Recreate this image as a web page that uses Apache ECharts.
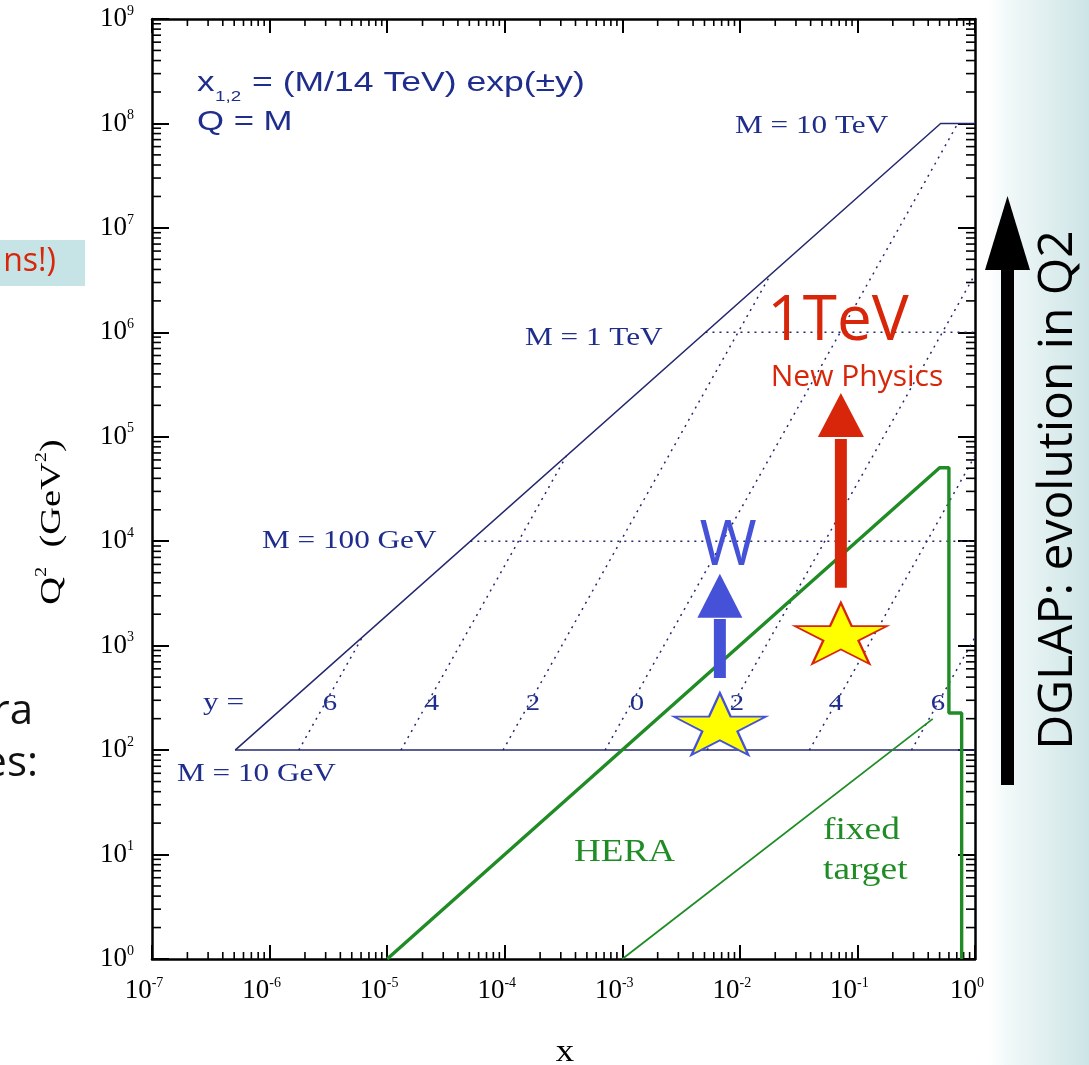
<!DOCTYPE html>
<html><head><meta charset="utf-8">
<script src="https://cdn.jsdelivr.net/npm/echarts@6/dist/echarts.min.js"></script>
<style>html,body{margin:0;padding:0;background:#fff}#c{width:1089px;height:1065px}</style>
</head><body><div id="c"></div>
<script>
// ---------------- data (x, Q^2) ----------------
const xTickExponents = [-7, -6, -5, -4, -3, -2, -1, 0];
const yTickExponents = [0, 1, 2, 3, 4, 5, 6, 7, 8, 9];
const minorMultipliers = [2, 3, 4, 5, 6, 7, 8, 9];

const kinematicLimit = [[5.1e-7, 1e2], [0.51, 1e8], [1, 1e8]];
const massLine10GeV = [[5.1e-7, 1e2], [1, 1e2]];
const massLine100GeV = [[5.1e-5, 1e4], [1, 1e4]];
const massLine1TeV = [[5.1e-3, 1e6], [1, 1e6]];

const rapidityPlus6 = [[1.77e-6, 1e2], [6.14e-6, 1204]];
const rapidityPlus4 = [[1.31e-5, 1e2], [3.35e-4, 6.57e4]];
const rapidityPlus2 = [[9.67e-5, 1e2], [1.83e-2, 3.59e6]];
const rapidityZero = [[7.14e-4, 1e2], [0.714, 1e8]];
const rapidityMinus2 = [[5.28e-3, 1e2], [1, 3.59e6]];
const rapidityMinus4 = [[3.9e-2, 1e2], [1, 6.57e4]];
const rapidityMinus6 = [[0.288, 1e2], [1, 1204]];

const heraRegion = [[1e-5, 1], [0.50, 5.05e4], [0.60, 5.05e4], [0.60, 227], [0.77, 227], [0.77, 1]];
const fixedTargetEdge = [[1e-3, 1], [0.437, 199]];

const starW = [[6.76e-3, 178]];
const starTeV = [[0.0723, 1312]];
const arrowWShaft = [[6.76e-3, 490], [6.76e-3, 1800]];
const arrowWHead = [[6.76e-3, 3000]];
const arrowTeVShaft = [[0.0723, 3580], [0.0723, 9.5e4]];
const arrowTeVHead = [[0.0723, 1.62e5]];

// ---------------- styles ----------------
const NAVY = '#26286f';
const TXT_NAVY = '#1f2d8c';
const GREEN = '#1f8c26';
const RED = '#d8260a';
const BLUE = '#4551d6';
const SERIF = '"Liberation Serif", "DejaVu Serif", serif';
const SANS = '"Liberation Sans", Arial, sans-serif';
const SLIDE = '"Open Sans", "Noto Sans", sans-serif';
const STAR = 'path://M50 0 L61.23 34.55 L97.55 34.55 L68.16 55.9 L79.39 90.45 L50 69.1 L20.61 90.45 L31.84 55.9 L2.45 34.55 L38.77 34.55 Z';

const xMinorTicks = [];
xTickExponents.slice(0, -1).forEach(e => minorMultipliers.forEach(m => xMinorTicks.push(m * Math.pow(10, e))));
const yMinorTicks = [];
yTickExponents.slice(0, -1).forEach(e => minorMultipliers.forEach(m => yMinorTicks.push(m * Math.pow(10, e))));

const expLabel = v => '{b|10}{s|' + Math.round(Math.log10(v)) + '}';
const labelRich = {
  b: { fontFamily: SERIF, fontSize: 27, lineHeight: 30, color: '#000' },
  s: { fontFamily: SERIF, fontSize: 14, lineHeight: 14, verticalAlign: 'top', color: '#000' }
};

function lineSeries(data, color, width, type, z) {
  return { type: 'line', data: data, symbol: 'none', silent: true, animation: false, z: z || 2,
    lineStyle: { color: color, width: width, type: type || 'solid', cap: 'butt' } };
}
const DOT = [2, 5];

const frameAxisX = (pos, labels) => ({
  type: 'log', logBase: 10, min: 1e-7, max: 1, position: pos, splitNumber: 10,
  axisLine: { show: true, onZero: false, lineStyle: { color: '#000', width: 2.5 } },
  axisTick: { show: true, inside: true, length: 14, lineStyle: { color: '#000', width: 2 } },
  splitLine: { show: false }, minorTick: { show: false },
  axisLabel: labels ? { show: true, formatter: expLabel, rich: labelRich, margin: 17, padding: [0, 16, 0, 0], showMinLabel: true, showMaxLabel: true } : { show: false }
});
const frameAxisY = (pos, labels) => ({
  type: 'log', logBase: 10, min: 1, max: 1e9, position: pos, splitNumber: 10,
  axisLine: { show: true, onZero: false, lineStyle: { color: '#000', width: 2.5 } },
  axisTick: { show: true, inside: true, length: 17, lineStyle: { color: '#000', width: 2 } },
  splitLine: { show: false }, minorTick: { show: false },
  axisLabel: labels ? { show: true, formatter: expLabel, rich: labelRich, margin: 18, showMinLabel: true, showMaxLabel: true } : { show: false }
});

const chart = echarts.init(document.getElementById('c'), null, { renderer: 'canvas' });

function T(text, x, y, size, color, extra, styleExtra) {
  const o = Object.assign({
    type: 'text', x: x, y: y, silent: true, z: 50,
    style: { text: text, fontSize: size, fontFamily: SERIF, fill: color, align: 'left', verticalAlign: 'middle' }
  }, extra || {});
  Object.assign(o.style, styleExtra || {});
  return o;
}

const graphics = [
  // right slide panel
  { type: 'rect', z: -5, silent: true, shape: { x: 988, y: 0, width: 101, height: 1065 },
    style: { fill: new echarts.graphic.LinearGradient(0, 0, 1, 0, [
      { offset: 0, color: 'rgba(255,255,255,1)' }, { offset: 0.2, color: '#f1f8f8' }, { offset: 1, color: '#cde4e6' }]) } },
  // left slide fragment box
  { type: 'rect', z: 0, silent: true, shape: { x: 0, y: 240, width: 85, height: 46 }, style: { fill: '#c6e3e6' } },
  T('ns!)', 56, 262, 32, RED, {}, { fontFamily: SLIDE, align: 'right' }),
  T('ra', 33, 712, 42, '#111', {}, { fontFamily: SLIDE, align: 'right' }),
  T('es:', 38, 764, 42, '#111', {}, { fontFamily: SLIDE, align: 'right' }),
  // DGLAP arrow
  { type: 'rect', z: 5, silent: true, shape: { x: 1001, y: 262, width: 13, height: 523 }, style: { fill: '#000' } },
  { type: 'polygon', z: 5, silent: true, shape: { points: [[1007.5, 196], [1030, 270], [985, 270]] }, style: { fill: '#000' } },
  T('DGLAP: evolution in Q2', 1058, 490, 48, '#000', { rotation: Math.PI / 2 }, { fontFamily: SLIDE, align: 'center' }),
  // formula
  T('x', 197, 83, 28, TXT_NAVY, { scaleX: 1.25 }, { fontFamily: SANS }),
  T('1,2', 215, 97, 15, TXT_NAVY, { scaleX: 1.25 }, { fontFamily: SANS }),
  T('= (M/14 TeV) exp(\u00b1y)', 252, 83, 28, TXT_NAVY, { scaleX: 1.27 }, { fontFamily: SANS }),
  T('Q = M', 197, 122, 28, TXT_NAVY, { scaleX: 1.24 }, { fontFamily: SANS }),
  // mass labels
  T('M = 10 TeV', 735, 126, 26, TXT_NAVY, { scaleX: 1.2 }),
  T('M = 1 TeV', 525, 338, 26, TXT_NAVY, { scaleX: 1.2 }),
  T('M = 100 GeV', 262, 541, 26, TXT_NAVY, { scaleX: 1.2 }),
  T('M = 10 GeV', 177, 774, 26, TXT_NAVY, { scaleX: 1.2 }),
  T('y =', 203, 703, 26, TXT_NAVY, { scaleX: 1.2 }),
  T('6', 330, 704, 23, TXT_NAVY, { scaleX: 1.25 }, { align: 'center' }),
  T('4', 432, 704, 23, TXT_NAVY, { scaleX: 1.25 }, { align: 'center' }),
  T('2', 533, 704, 23, TXT_NAVY, { scaleX: 1.25 }, { align: 'center' }),
  T('0', 637, 704, 23, TXT_NAVY, { scaleX: 1.25 }, { align: 'center' }),
  T('2', 737, 704, 23, TXT_NAVY, { scaleX: 1.25 }, { align: 'center' }),
  T('4', 836, 704, 23, TXT_NAVY, { scaleX: 1.25 }, { align: 'center' }),
  T('6', 938, 704, 23, TXT_NAVY, { scaleX: 1.25 }, { align: 'center' }),
  // green labels
  T('HERA', 574, 853, 32, GREEN, { scaleX: 1.16 }),
  T('fixed', 823, 831, 32, GREEN, { scaleX: 1.17 }),
  T('target', 823, 871, 32, GREEN, { scaleX: 1.17 }),
  // slide annotations
  T('W', 728, 547, 62, BLUE, {}, { fontFamily: SLIDE, align: 'center' }),
  T('1TeV', 838, 322, 62, RED, {}, { fontFamily: SLIDE, align: 'center' }),
  T('New Physics', 857, 377, 30, RED, {}, { fontFamily: SLIDE, align: 'center' }),
  // axis titles
  { type: 'text', x: 565, y: 1053, silent: true, scaleX: 1.15, style: { text: 'x', fontSize: 32, fontFamily: SERIF, fill: '#000', align: 'center', verticalAlign: 'middle' } },
  { type: 'text', x: 52, y: 522, rotation: Math.PI / 2, scaleX: 1.28, silent: true,
    style: { text: 'Q{s|2}  (GeV{s|2})', fontSize: 30, fontFamily: SERIF, fill: '#000', align: 'center', verticalAlign: 'middle',
      rich: { s: { fontSize: 16, lineHeight: 16, verticalAlign: 'top', fontFamily: SERIF, fill: '#000' } }, lineHeight: 36 } }
];

const minorTickSeries = (data, isX) => ({
  type: 'custom', silent: true, animation: false, clip: false, z: 3,
  data: data.map(v => isX ? [v, 1] : [1e-7, v]),
  renderItem: (params, api) => {
    const cs = params.coordSys;
    const p = api.coord([api.value(0), api.value(1)]);
    const st = { stroke: '#000', lineWidth: 1.6 };
    if (isX) {
      const b = cs.y + cs.height, t = cs.y;
      return { type: 'group', children: [
        { type: 'line', shape: { x1: p[0], y1: b, x2: p[0], y2: b - 7 }, style: st },
        { type: 'line', shape: { x1: p[0], y1: t, x2: p[0], y2: t + 7 }, style: st }] };
    }
    const l = cs.x, r = cs.x + cs.width;
    return { type: 'group', children: [
      { type: 'line', shape: { x1: l, y1: p[1], x2: l + 9, y2: p[1] }, style: st },
      { type: 'line', shape: { x1: r, y1: p[1], x2: r - 9, y2: p[1] }, style: st }] };
  }
});

const option = {
  backgroundColor: '#ffffff',
  animation: false,
  grid: { left: 152, right: 114, top: 19, bottom: 106, containLabel: false },
  xAxis: [frameAxisX('bottom', true), frameAxisX('top', false)],
  yAxis: [frameAxisY('left', true), frameAxisY('right', false)],
  graphic: graphics,
  series: [
    minorTickSeries(xMinorTicks, true),
    minorTickSeries(yMinorTicks, false),
    lineSeries(kinematicLimit, NAVY, 1.5),
    lineSeries(massLine10GeV, NAVY, 1.5),
    lineSeries(massLine100GeV, NAVY, 1.5, DOT),
    lineSeries(massLine1TeV, NAVY, 1.5, DOT),
    lineSeries(rapidityPlus6, NAVY, 1.5, DOT),
    lineSeries(rapidityPlus4, NAVY, 1.5, DOT),
    lineSeries(rapidityPlus2, NAVY, 1.5, DOT),
    lineSeries(rapidityZero, NAVY, 1.5, DOT),
    lineSeries(rapidityMinus2, NAVY, 1.5, DOT),
    lineSeries(rapidityMinus4, NAVY, 1.5, DOT),
    lineSeries(rapidityMinus6, NAVY, 1.5, DOT),
    lineSeries(heraRegion, GREEN, 3.4, 'solid', 4),
    lineSeries(fixedTargetEdge, GREEN, 1.8, 'solid', 4),
    lineSeries(arrowWShaft, BLUE, 12, 'solid', 6),
    lineSeries(arrowTeVShaft, RED, 12, 'solid', 6),
    { type: 'scatter', data: arrowWHead, symbol: 'triangle', symbolSize: [45, 44], silent: true, z: 6,
      itemStyle: { color: BLUE, opacity: 1 } },
    { type: 'scatter', data: arrowTeVHead, symbol: 'triangle', symbolSize: [46, 44], silent: true, z: 6,
      itemStyle: { color: RED, opacity: 1 } },
    { type: 'scatter', data: starW, symbol: STAR, symbolSize: [92, 62], symbolKeepAspect: false, silent: true, z: 7,
      itemStyle: { color: '#ffff00', borderColor: BLUE, borderWidth: 2, opacity: 1 } },
    { type: 'scatter', data: starTeV, symbol: STAR, symbolSize: [92, 61], symbolKeepAspect: false, silent: true, z: 7,
      itemStyle: { color: '#ffff00', borderColor: RED, borderWidth: 2, opacity: 1 } }
  ]
};
chart.setOption(option);
</script></body></html>
